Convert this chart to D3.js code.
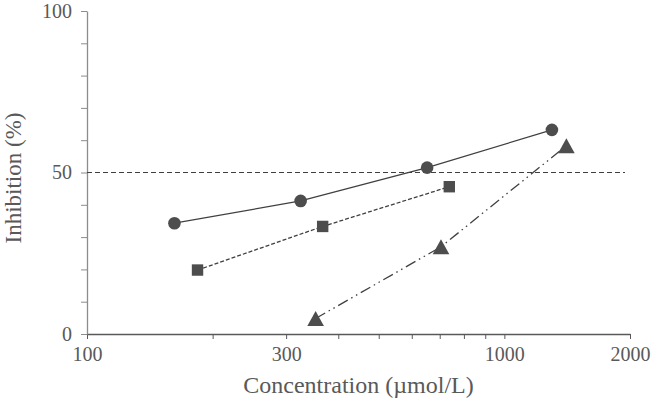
<!DOCTYPE html>
<html>
<head>
<meta charset="utf-8">
<script src="https://cdn.jsdelivr.net/npm/d3@7"></script>
<style>
  body { margin: 0; background: #fff; }
  text { font-family: "Liberation Serif", "Times New Roman", serif; fill: #595959; }
</style>
</head>
<body>
<svg id="chart" width="651" height="402"></svg>
<script>
// data
const circleConc = [162, 325, 653, 1300];
const circleInh = [34.3, 41.2, 51.5, 63.2];
const squareConc = [184, 367, 738];
const squareInh = [19.8, 33.3, 45.6];
const triConc = [353, 705, 1408];
const triInh = [4.8, 27.0, 58.3];

const xTicks = [100, 200, 300, 400, 500, 600, 700, 800, 900, 1000, 2000];
const xLabels = [100, 300, 1000, 2000];
const yTicks = [0, 10, 20, 30, 40, 50, 60, 70, 80, 90, 100];
const yLabels = [0, 50, 100];
const threshold = 50;

const margin = { top: 11, right: 21, bottom: 68, left: 87 };
const width = 651, height = 402;

const svg = d3.select('#chart');

const x = d3.scaleLog().domain([100, 2000]).range([margin.left, width - margin.right]);
const y = d3.scaleLinear().domain([0, 100]).range([height - margin.bottom, margin.top]);

const zip = (a, b) => a.map((v, i) => ({ c: v, v: b[i] }));
const series = [
  { pts: zip(circleConc, circleInh), dash: null, marker: 'circle' },
  { pts: zip(squareConc, squareInh), dash: '4,2', marker: 'square' },
  { pts: zip(triConc, triInh), dash: '11,4,1.5,4,1.5,4', marker: 'triangle' }
];

// axes
const xAxis = d3.axisBottom(x)
  .tickValues(xTicks)
  .tickFormat(d => xLabels.includes(d) ? d : '')
  .tickSize(5)
  .tickSizeOuter(0)
  .tickPadding(8);

const gx = svg.append('g')
  .attr('class', 'x axis')
  .attr('transform', `translate(0,${y(0)})`)
  .call(xAxis);
gx.select('.domain').attr('stroke', '#595959').attr('stroke-width', 1.3);
gx.selectAll('.tick line').attr('stroke', '#595959');
gx.selectAll('.tick text').attr('font-size', 20).style('fill', '#595959');

const yAxis = d3.axisLeft(y)
  .tickValues(yTicks)
  .tickFormat(d => yLabels.includes(d) ? d : '')
  .tickSize(6)
  .tickSizeOuter(0)
  .tickPadding(9);

const gy = svg.append('g')
  .attr('class', 'y axis')
  .attr('transform', `translate(${x(100)},0)`)
  .call(yAxis);
gy.select('.domain').attr('stroke', '#8c8c8c').attr('stroke-width', 1.3);
gy.selectAll('.tick line').attr('stroke', '#8c8c8c');
gy.selectAll('.tick text').attr('font-size', 20).style('fill', '#595959');

// 50% reference line
svg.append('line')
  .attr('x1', x(100)).attr('x2', x(2000) - 5)
  .attr('y1', y(threshold)).attr('y2', y(threshold))
  .attr('stroke', '#404040')
  .attr('stroke-width', 1.2)
  .attr('stroke-dasharray', '5,3');

// lines
const line = d3.line().x(d => x(d.c)).y(d => y(d.v));
series.forEach(s => {
  svg.append('path')
    .datum(s.pts)
    .attr('fill', 'none')
    .attr('stroke', '#404040')
    .attr('stroke-width', 1.3)
    .attr('stroke-dasharray', s.dash)
    .attr('d', line);
});

// markers
const markerColor = '#4d4d4d';
series.forEach(s => {
  const g = svg.append('g');
  s.pts.forEach(p => {
    const cx = x(p.c), cy = y(p.v);
    if (s.marker === 'circle') {
      g.append('circle').attr('cx', cx).attr('cy', cy).attr('r', 6.3).attr('fill', markerColor);
    } else if (s.marker === 'square') {
      g.append('rect').attr('x', cx - 5.7).attr('y', cy - 5.7)
        .attr('width', 11.4).attr('height', 11.4).attr('fill', markerColor);
    } else {
      g.append('path')
        .attr('transform', `translate(${cx},${cy})`)
        .attr('d', 'M0,-7.5L8.3,7.5L-8.3,7.5Z')
        .attr('fill', markerColor);
    }
  });
});

// axis titles
svg.append('text')
  .attr('x', (x(100) + x(2000)) / 2)
  .attr('y', 393)
  .attr('text-anchor', 'middle')
  .attr('font-size', 24)
  .text('Concentration (µmol/L)');

svg.append('text')
  .attr('transform', `translate(21,178) rotate(-90)`)
  .attr('text-anchor', 'middle')
  .attr('font-size', 23)
  .text('Inhibition (%)');
</script>
</body>
</html>
